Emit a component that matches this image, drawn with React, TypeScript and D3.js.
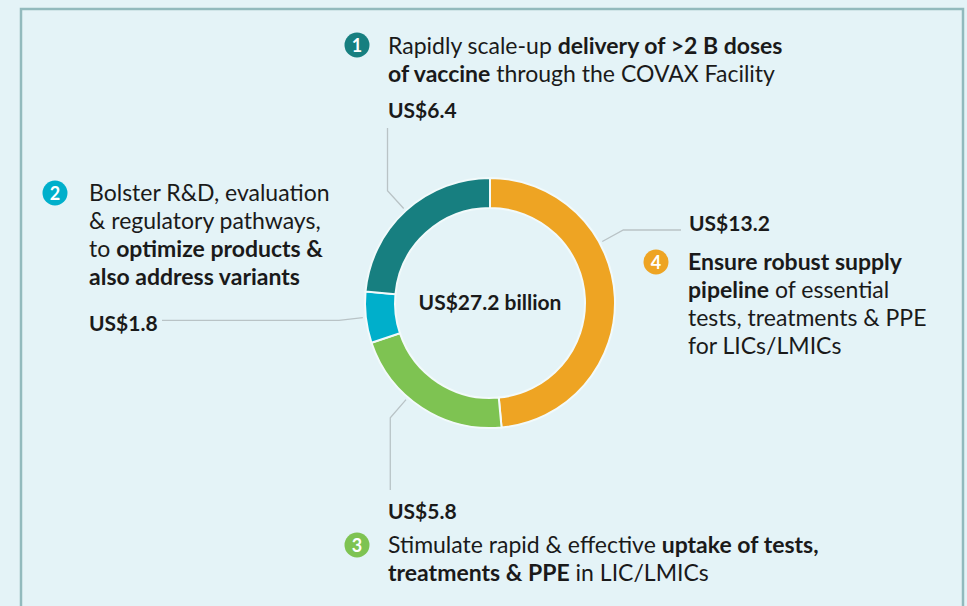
import * as d3 from "d3";

// Pillars of the appeal, in numbered order
const pillarIds = ["1", "2", "3", "4"];
const amounts = [6.4, 1.8, 5.8, 13.2];
const amountLabels = ["US$6.4", "US$1.8", "US$5.8", "US$13.2"];
const totalLabel = "US$27.2 billion";
// clockwise from 12 o'clock
const pieOrder = [3, 2, 1, 0];

type Seg = [string, boolean];
const descriptions: Seg[][][] = [
  [
    [["Rapidly scale-up ", false], ["delivery of >2 B doses", true]],
    [["of vaccine", true], [" through the COVAX Facility", false]],
  ],
  [
    [["Bolster R&D, evaluation", false]],
    [["& regulatory pathways,", false]],
    [["to ", false], ["optimize products &", true]],
    [["also address variants", true]],
  ],
  [
    [["Stimulate rapid & effective ", false], ["uptake of tests,", true]],
    [["treatments & PPE", true], [" in LIC/LMICs", false]],
  ],
  [
    [["Ensure robust supply", true]],
    [["pipeline", true], [" of essential", false]],
    [["tests, treatments & PPE", false]],
    [["for LICs/LMICs", false]],
  ],
];

const colors = ["#177f80", "#00afcb", "#7ec352", "#eea423"];

// layout of the text blocks
const blocks = [
  { bx: 357, by: 45, tx: 388, ty: 54, vx: 388, vy: 118, leader: "up", end: 128 },
  { bx: 55, by: 193, tx: 89, ty: 201, vx: 89, vy: 331, leader: "left", end: 162 },
  { bx: 357, by: 545, tx: 388, ty: 553, vx: 388, vy: 519, leader: "down", end: 490 },
  { bx: 656, by: 262, tx: 688, ty: 270, vx: 689, vy: 231, leader: "right", end: 681 },
];
// angle (deg from 12 o'clock) where each leader leaves the ring
const leaderAngles = [317.6, 263.4, 221, 61.3];

const W = 967, H = 606;
const cx = 490, cy = 303, R = 125, r = 95;
const FONT = "Lato, 'Open Sans', sans-serif";

function polar(deg: number, rad: number): [number, number] {
  const a = (deg * Math.PI) / 180;
  return [cx + rad * Math.sin(a), cy - rad * Math.cos(a)];
}

export default function App() {
  document.body.style.margin = "0";

  const pie = d3.pie<number>().sort(null).value((i) => amounts[i]);
  const arcs = pie(pieOrder);
  const arc = d3.arc<d3.PieArcDatum<number>>().innerRadius(r).outerRadius(R);

  const leaders = pillarIds.map((_, i) => {
    const b = blocks[i];
    const p0 = polar(leaderAngles[i], 128);
    const p1 = polar(leaderAngles[i], 152);
    const p2: [number, number] =
      b.leader === "up" || b.leader === "down" ? [p1[0], b.end] : [b.end, p1[1]];
    return d3.line()([p0, p1, p2]) as string;
  });

  return (
    <svg width={W} height={H} style={{ display: "block" }} fontFamily={FONT}>
      <rect x={0} y={0} width={W} height={H} fill="#e4f3f7" />
      <path d={`M21,${H} V9 H963 V${H}`} fill="none" stroke="#92babd" strokeWidth={2.5} />

      <g>
        {arcs.map((a) => (
          <path key={a.data} d={arc(a) as string} transform={`translate(${cx},${cy})`}
            fill={colors[a.data]} stroke="#f2fafb" strokeWidth={2} />
        ))}
      </g>
      <text x={cx} y={cy + 7} textAnchor="middle" fontSize={21} fontWeight={700} fill="#1a1a1a">
        {totalLabel}
      </text>

      {leaders.map((d, i) => (
        <path key={i} d={d} fill="none" stroke="#b9c3c6" strokeWidth={1.3} />
      ))}

      {pillarIds.map((id, i) => {
        const b = blocks[i];
        return (
          <g key={id}>
            <circle cx={b.bx} cy={b.by} r={12.5} fill={colors[i]} />
            <text x={b.bx} y={b.by + 6.5} textAnchor="middle" fontSize={18} fontWeight={700} fill="#fff">
              {id}
            </text>
            {descriptions[i].map((line, li) => (
              <text key={li} x={b.tx} y={b.ty + li * 28} fontSize={23} fill="#1a1a1a">
                {line.map(([s, bold], si) => (
                  <tspan key={si} fontWeight={bold ? 700 : 400}>{s}</tspan>
                ))}
              </text>
            ))}
            <text x={b.vx} y={b.vy} fontSize={21} fontWeight={700} fill="#1a1a1a">
              {amountLabels[i]}
            </text>
          </g>
        );
      })}
    </svg>
  );
}
